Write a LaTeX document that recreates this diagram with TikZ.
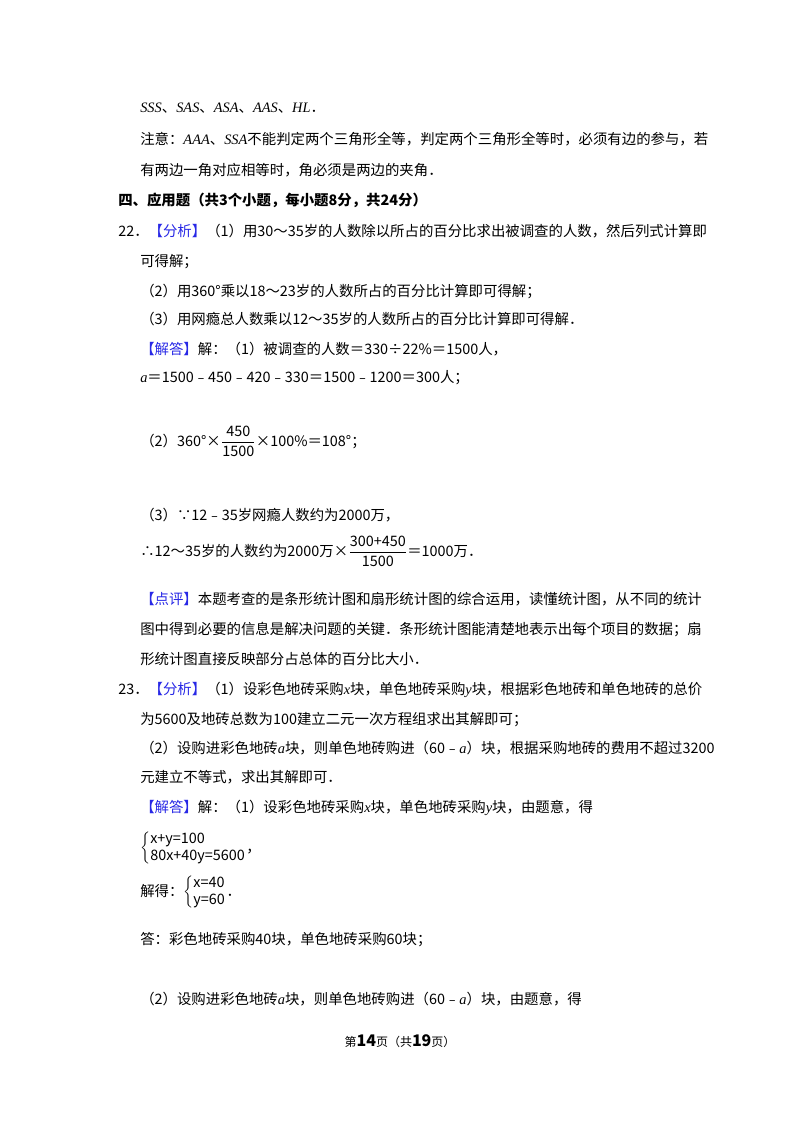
\documentclass[tikz,border=0pt]{standalone}
\usepackage{fontspec}
\setmainfont{Noto Sans CJK SC}
\newfontfamily\tnr{Liberation Serif}
\definecolor{hl}{RGB}{40,40,230}
\newcommand{\va}[1]{{\tnr\itshape #1}}
\newcommand{\tg}[1]{\textcolor{hl}{#1}}
\begin{document}
\begin{tikzpicture}[x=0.75pt,y=-0.75pt,
  ln/.style={anchor=base west,inner sep=0pt,font=\fontsize{10.8}{13}\selectfont}]
\useasboundingbox[fill=white] (0,0) rectangle (800,1132);
\node[ln] (l1) at (140,112) {\va{SSS}、\va{SAS}、\va{ASA}、\va{AAS}、\va{HL}．};
\node[ln] (l2) at (140,144) {注意：\va{AAA}、\va{SSA}不能判定两个三角形全等，判定两个三角形全等时，必须有边的参与，若};
\node[ln] (l3) at (140,175) {有两边一角对应相等时，角必须是两边的夹角．};
\node[ln,font=\fontsize{10.8}{13}\selectfont\bfseries] (h4) at (118,205) {四、应用题（共3个小题，每小题8分，共24分）};
\node[ln] (a1) at (118,236) {22．\tg{【分析】}（1）用30～35岁的人数除以所占的百分比求出被调查的人数，然后列式计算即};
\node[ln] (a2) at (140,266) {可得解；};
\node[ln] (a3) at (140,296) {（2）用360°乘以18～23岁的人数所占的百分比计算即可得解；};
\node[ln] (a4) at (140,324) {（3）用网瘾总人数乘以12～35岁的人数所占的百分比计算即可得解．};
\node[ln] (a5) at (140,354) {\tg{【解答】}解：（1）被调查的人数＝330÷22\%＝1500人，};
\node[ln] (a6) at (140,382) {\va{a}＝1500﹣450﹣420﹣330＝1500﹣1200＝300人；};
\node[ln] (a7) at (140,446) {（2）360°×$\displaystyle\frac{\mbox{450}}{\mbox{1500}}$×100\%＝108°；};
\node[ln] (a8) at (140,520) {（3）∵12﹣35岁网瘾人数约为2000万，};
\node[ln] (a9) at (140,556) {∴12～35岁的人数约为2000万×$\displaystyle\frac{\mbox{300+450}}{\mbox{1500}}$＝1000万．};
\node[ln] (p1) at (140,604) {\tg{【点评】}本题考查的是条形统计图和扇形统计图的综合运用，读懂统计图，从不同的统计};
\node[ln] (p2) at (140,634) {图中得到必要的信息是解决问题的关键．条形统计图能清楚地表示出每个项目的数据；扇};
\node[ln] (p3) at (140,664) {形统计图直接反映部分占总体的百分比大小．};
\node[ln] (b1) at (118,694) {23．\tg{【分析】}（1）设彩色地砖采购\va{x}块，单色地砖采购\va{y}块，根据彩色地砖和单色地砖的总价};
\node[ln] (b2) at (140,724) {为5600及地砖总数为100建立二元一次方程组求出其解即可；};
\node[ln] (b3) at (140,753) {（2）设购进彩色地砖\va{a}块，则单色地砖购进（60﹣\va{a}）块，根据采购地砖的费用不超过3200};
\node[ln] (b4) at (140,782) {元建立不等式，求出其解即可．};
\node[ln] (b5) at (140,812) {\tg{【解答】}解：（1）设彩色地砖采购\va{x}块，单色地砖采购\va{y}块，由题意，得};
\node[ln] (b6) at (140,852) {$\left\{\begin{array}{@{}l@{}}\mbox{x+y=100}\\ \mbox{80x+40y=5600}\end{array}\right.$，};
\node[ln] (b7) at (140,896) {解得：$\left\{\begin{array}{@{}l@{}}\mbox{x=40}\\ \mbox{y=60}\end{array}\right.$．};
\node[ln] (b8) at (140,944) {答：彩色地砖采购40块，单色地砖采购60块；};
\node[ln] (b9) at (140,1004) {（2）设购进彩色地砖\va{a}块，则单色地砖购进（60﹣\va{a}）块，由题意，得};
\node[anchor=base,inner sep=0pt,font=\fontsize{9}{11}\selectfont] (ft) at (400,1046) {第\textbf{\large 14}页（共\textbf{\large 19}页）};
\end{tikzpicture}
\end{document}
